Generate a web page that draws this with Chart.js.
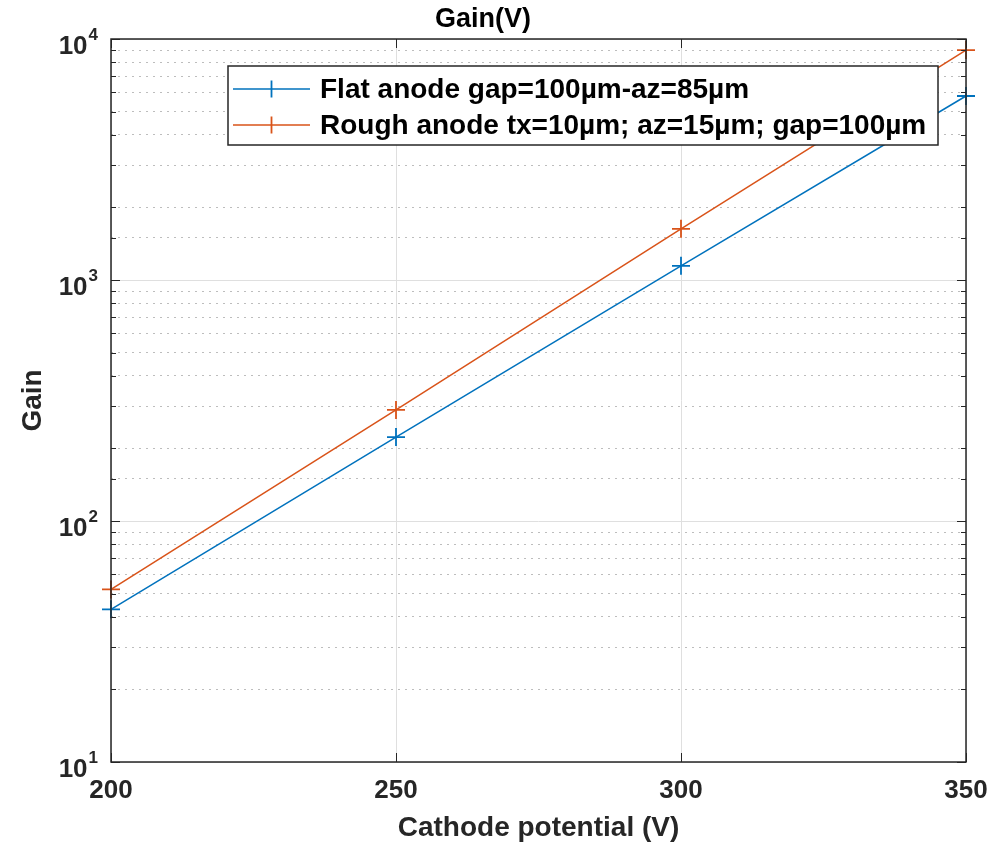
<!DOCTYPE html>
<html>
<head>
<meta charset="utf-8">
<script src="https://cdn.jsdelivr.net/npm/chart.js@4.4.0/dist/chart.umd.min.js"></script>
<style>
  html, body { margin: 0; padding: 0; background: #fff; }
  canvas { display: block; }
</style>
</head>
<body>
<canvas id="gainChart" width="989" height="847"></canvas>
<script>
// Cathode potential (V) against gain, log y axis
const voltages = [200, 250, 300, 350];
const flatGain = [43, 223, 1145, 5800];
const roughGain = [52, 289, 1630, 9000];
const xTicks = [200, 250, 300, 350];
const yDecades = [1, 2, 3, 4];

const seriesLabels = ['Flat anode gap=100µm-az=85µm', 'Rough anode tx=10µm; az=15µm; gap=100µm'];
const seriesColors = ['#0072BD', '#D95319'];

const FONT = '"Liberation Sans", Arial, Helvetica, sans-serif';
const AXIS_COLOR = '#262626';

function isDecade(v) {
    const l = Math.log10(v);
    return Math.abs(l - Math.round(l)) < 1e-9;
}

function toPoints(ys) {
    return voltages.map((v, i) => ({ x: v, y: ys[i] }));
}

// matlab style box, inner ticks, 10^n labels and the legend box
const matlabAxes = {
    id: 'matlabAxes',
    afterDatasetsDraw(chart) {
        const { ctx, chartArea: a, scales: { x, y } } = chart;
        ctx.save();
        ctx.strokeStyle = AXIS_COLOR;
        ctx.lineWidth = 1;
        ctx.beginPath();
        y.ticks.forEach(t => {
            const py = Math.round(y.getPixelForValue(t.value)) + 0.5;
            const len = isDecade(t.value) ? 9 : 5;
            ctx.moveTo(a.left, py); ctx.lineTo(a.left + len, py);
            ctx.moveTo(a.right, py); ctx.lineTo(a.right - len, py);
        });
        xTicks.forEach(v => {
            const px = Math.round(x.getPixelForValue(v)) + 0.5;
            ctx.moveTo(px, a.bottom); ctx.lineTo(px, a.bottom - 9);
            ctx.moveTo(px, a.top); ctx.lineTo(px, a.top + 9);
        });
        ctx.stroke();
        ctx.lineWidth = 1.5;
        ctx.strokeRect(a.left, a.top, a.right - a.left, a.bottom - a.top);
        ctx.restore();
    },
    afterDraw(chart) {
        const { ctx, scales: { y } } = chart;
        ctx.save();
        // y labels as 10 with superscript exponent
        ctx.fillStyle = AXIS_COLOR;
        ctx.textBaseline = 'alphabetic';
        ctx.textAlign = 'right';
        yDecades.forEach(d => {
            const py = y.getPixelForValue(Math.pow(10, d));
            ctx.font = `bold 17px ${FONT}`;
            const ew = ctx.measureText(String(d)).width;
            ctx.fillText(String(d), 98, py + 1);
            ctx.font = `bold 26px ${FONT}`;
            ctx.fillText('10', 98 - ew - 1, py + 15);
        });

        // legend
        const bx = 228, by = 66, bw = 710, bh = 79;
        ctx.fillStyle = '#fff';
        ctx.fillRect(bx, by, bw, bh);
        ctx.strokeStyle = AXIS_COLOR;
        ctx.lineWidth = 1.5;
        ctx.strokeRect(bx, by, bw, bh);
        const rows = [89, 125];
        chart.data.datasets.forEach((ds, i) => {
            const ry = rows[i];
            ctx.strokeStyle = ds.borderColor;
            ctx.lineWidth = 1.5;
            ctx.beginPath();
            ctx.moveTo(233, ry); ctx.lineTo(310, ry);
            ctx.stroke();
            ctx.lineWidth = 1.8;
            ctx.beginPath();
            ctx.moveTo(271.5, ry - 8.5); ctx.lineTo(271.5, ry + 8.5);
            ctx.stroke();
            ctx.fillStyle = '#000';
            ctx.font = `bold 28px ${FONT}`;
            ctx.textAlign = 'left';
            ctx.textBaseline = 'middle';
            ctx.fillText(ds.label, 320, ry + 1);
        });
        ctx.restore();
    }
};

function makeDataset(i, ys) {
    return {
        label: seriesLabels[i],
        data: toPoints(ys),
        borderColor: seriesColors[i],
        backgroundColor: seriesColors[i],
        borderWidth: 1.5,
        pointStyle: 'cross',
        pointRadius: 9,
        pointHoverRadius: 9,
        pointBorderWidth: 1.8,
        tension: 0,
        clip: false
    };
}

const ctx = document.getElementById('gainChart').getContext('2d');
const gainChart = new Chart(ctx, {
    type: 'line',
    data: {
        datasets: [makeDataset(0, flatGain), makeDataset(1, roughGain)]
    },
    options: {
        responsive: false,
        animation: false,
        devicePixelRatio: 1,
        layout: { padding: { top: 0, right: 23, bottom: 0, left: 0 } },
        plugins: {
            legend: { display: false },
            tooltip: { enabled: false },
            title: {
                display: true,
                text: 'Gain(V)',
                color: '#000',
                font: { family: FONT, size: 27, weight: 'bold' },
                padding: { top: 3, bottom: 3.6 }
            }
        },
        scales: {
            x: {
                type: 'linear',
                min: 200,
                max: 350,
                ticks: {
                    stepSize: 50,
                    maxRotation: 0,
                    padding: 13,
                    color: AXIS_COLOR,
                    font: { family: FONT, size: 26, weight: 'bold' }
                },
                grid: { color: '#dfdfdf', lineWidth: 1, drawTicks: false },
                border: { display: false },
                title: {
                    display: true,
                    text: 'Cathode potential (V)',
                    color: AXIS_COLOR,
                    font: { family: FONT, size: 28, weight: 'bold' },
                    padding: { top: 0, bottom: 2 }
                },
                afterFit: s => {
                    s.height = 85;
                    s.paddingLeft = 0;
                    s.paddingRight = 0;
                }
            },
            y: {
                type: 'logarithmic',
                min: 10,
                max: 10000,
                ticks: { display: false, autoSkip: false },
                grid: {
                    color: c => (c.tick && isDecade(c.tick.value)) ? '#dfdfdf' : '#bdbdbd',
                    lineWidth: 1,
                    drawTicks: false
                },
                border: {
                    display: false,
                    dash: c => (c.tick && !isDecade(c.tick.value)) ? [2, 5] : []
                },
                title: {
                    display: true,
                    text: 'Gain',
                    color: AXIS_COLOR,
                    font: { family: FONT, size: 28, weight: 'bold' },
                    padding: { top: 16, bottom: 0 }
                },
                afterFit: s => { s.width = 111; }
            }
        }
    },
    plugins: [matlabAxes]
});
</script>
</body>
</html>
